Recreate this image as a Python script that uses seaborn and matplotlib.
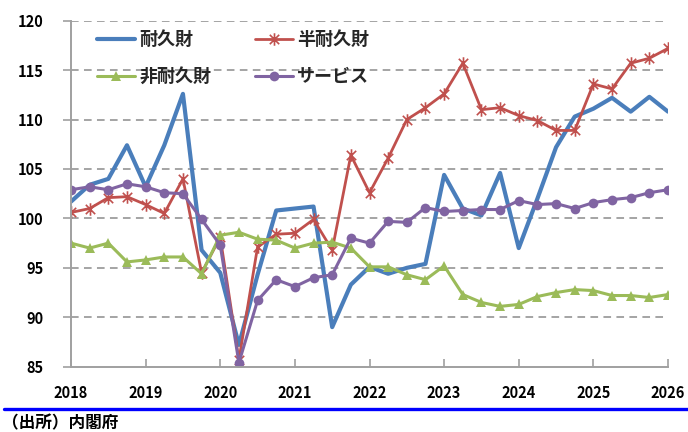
import numpy as np
import pandas as pd
import matplotlib
matplotlib.use("Agg")
import matplotlib.pyplot as plt
from matplotlib.lines import Line2D
from matplotlib.path import Path
import seaborn as sns

# Quarterly data 2018Q1 .. 2026Q1 (33 quarters)
start_year = 2018
n_quarters = 33

durable = [101.7, 103.4, 104.0, 107.4, 103.2, 107.4, 112.6, 96.8, 94.5,
           87.2, 94.3, 100.8, 101.0, 101.2, 89.0, 93.3, 95.1, 94.4, 95.0,
           95.4, 104.4, 101.0, 100.3, 104.6, 97.0, 102.0, 107.2, 110.3, 111.1,
           112.2, 110.8, 112.3, 110.8]
semi_durable = [100.6, 101.0, 102.1, 102.2, 101.4, 100.5, 104.0, 94.5, 98.1,
                85.7, 97.1, 98.4, 98.5, 99.9, 96.8, 106.4, 102.6, 106.1, 110.0,
                111.2, 112.6, 115.7, 111.0, 111.2, 110.4, 109.9, 108.9, 108.9,
                113.6, 113.1, 115.7, 116.2, 117.2]
non_durable = [97.5, 97.0, 97.5, 95.6, 95.8, 96.1, 96.1, 94.4, 98.3, 98.6,
               97.9, 97.8, 97.0, 97.5, 97.6, 97.0, 95.1, 95.1, 94.3, 93.8,
               95.2, 92.3, 91.5, 91.1, 91.3, 92.1, 92.5, 92.8, 92.7, 92.2,
               92.2, 92.0, 92.3]
services = [102.9, 103.2, 102.9, 103.5, 103.2, 102.6, 102.5, 99.9, 97.3, 85.4,
            91.7, 93.8, 93.1, 94.0, 94.3, 98.0, 97.5, 99.7, 99.6, 101.1, 100.7,
            100.8, 100.9, 100.9, 101.8, 101.4, 101.5, 101.0, 101.6, 101.9,
            102.1, 102.6, 102.9]

series_names = ["耐久財", "半耐久財", "非耐久財", "サービス"]
year_ticks = [2018, 2019, 2020, 2021, 2022, 2023, 2024, 2025, 2026]
y_ticks = [85, 90, 95, 100, 105, 110, 115, 120]

x = start_year + np.arange(n_quarters) / 4.0

sns.set_theme(style="white")
plt.rcParams["font.family"] = ["Noto Sans CJK JP", "DejaVu Sans"]

fig = plt.figure(figsize=(6.88, 4.32), dpi=100)
ax = fig.add_axes([71 / 688, 1 - 366.7 / 432, (668 - 71) / 688, (366.7 - 20.7) / 432])

# Excel-style asterisk: X plus a vertical stroke
star_path = Path(
    [(0, -1), (0, 1), (-0.75, -0.75), (0.75, 0.75), (-0.75, 0.75), (0.75, -0.75)],
    [Path.MOVETO, Path.LINETO, Path.MOVETO, Path.LINETO, Path.MOVETO, Path.LINETO],
)

styles = [
    dict(color="#4A7EBB", lw=3.0, marker=None),
    dict(color="#C0504D", lw=2.0, marker=star_path, ms=9, mew=1.2, fc="none"),
    dict(color="#9BBB59", lw=2.2, marker="^", ms=7, mew=0, fc=None),
    dict(color="#8064A2", lw=2.2, marker="o", ms=7, mew=0, fc=None),
]
data = [durable, semi_durable, non_durable, services]
handles = {}
for name, vals, st in zip(series_names, data, styles):
    df = pd.DataFrame({"x": x, "y": vals})
    kw = dict(color=st["color"], linewidth=st["lw"])
    if st["marker"] is not None:
        kw.update(marker=st["marker"], markersize=st["ms"],
                  markeredgewidth=st["mew"], markeredgecolor=st["color"],
                  markerfacecolor=st["fc"] if st["fc"] else st["color"])
    sns.lineplot(data=df, x="x", y="y", ax=ax, label=name, **kw)
    handles[name] = ax.get_lines()[-1]

ax.set_xlim(2018, 2026)
ax.set_ylim(85, 120)
ax.set_xticks(year_ticks)
ax.set_xticklabels([str(v) for v in year_ticks])
ax.set_yticks(y_ticks)
ax.set_yticklabels([str(v) for v in y_ticks])
ax.set_xlabel("")
ax.set_ylabel("")

for yv in y_ticks[1:]:
    ax.axhline(yv, color="#8C8C8C", lw=1.1, ls=(0, (5, 3.5)), zorder=0)

for s in ["top", "right"]:
    ax.spines[s].set_visible(False)
for s in ["left", "bottom"]:
    ax.spines[s].set_color("#A0A0A0")
    ax.spines[s].set_linewidth(1.4)

ax.tick_params(axis="y", direction="out", length=6, width=1.2, color="#A0A0A0",
               pad=14, labelsize=10.5, left=True)
ax.tick_params(axis="x", direction="in", length=6, width=1.2, color="#A0A0A0",
               pad=13, labelsize=10.5, bottom=True)
for lab in ax.get_xticklabels() + ax.get_yticklabels():
    lab.set_fontweight("bold")
    lab.set_color("black")

order = ["耐久財", "非耐久財", "半耐久財", "サービス"]
leg = ax.legend([handles[n] for n in order], order, ncol=2, loc="upper left",
                bbox_to_anchor=(97 / 688, 1 - 30 / 432), bbox_transform=fig.transFigure,
                frameon=False, borderpad=0, borderaxespad=0,
                handlelength=2.1, handletextpad=0.25, columnspacing=2.4,
                labelspacing=1.0, prop={"weight": "bold", "size": 13})

fig.add_artist(Line2D([4 / 688, 1], [1 - 409 / 432] * 2, color="#0000FF", lw=2.4,
                      transform=fig.transFigure))
fig.text(2 / 688, 1 - 423 / 432, "（出所）内閣府", ha="left", va="center",
         fontsize=12, fontweight="bold", color="black")

fig.savefig("out.png", dpi=100)
